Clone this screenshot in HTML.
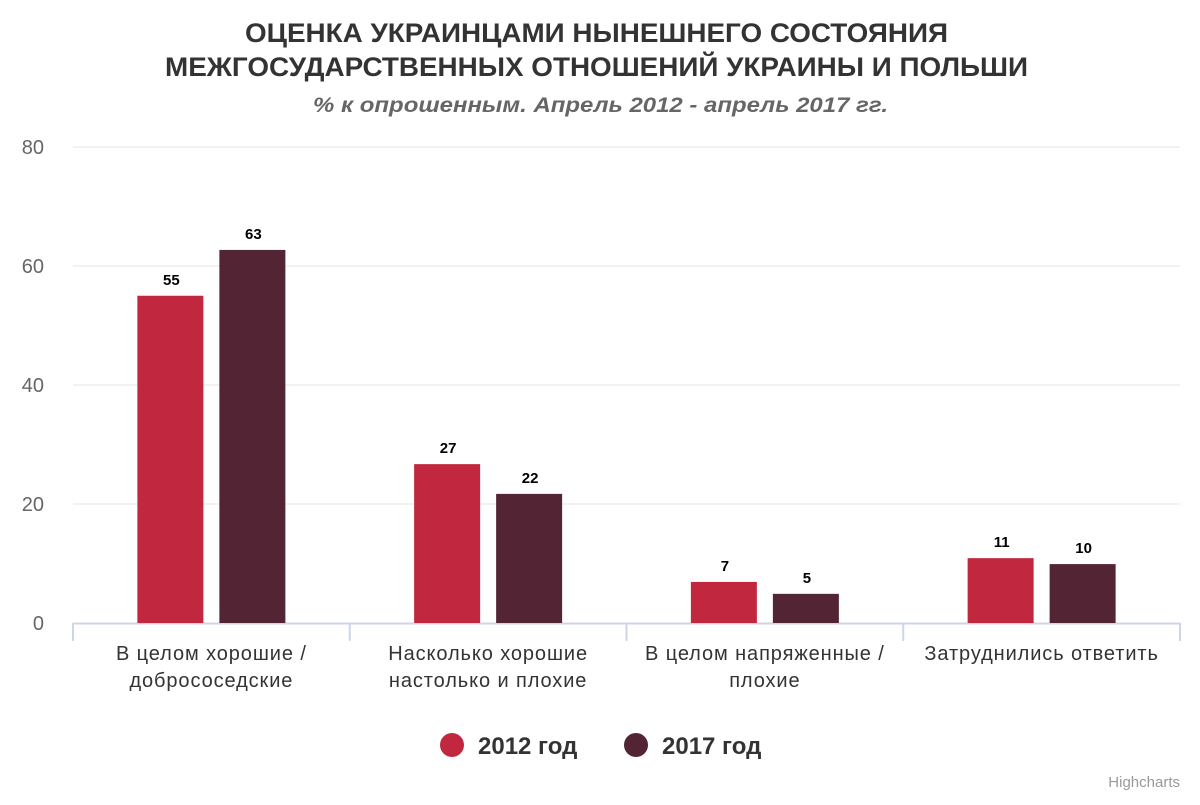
<!DOCTYPE html>
<html><head><meta charset="utf-8">
<style>
body{margin:0;background:#fff;font-family:"Liberation Sans","DejaVu Sans",sans-serif;}
</style></head>
<body>
<svg id="chart" width="1200" height="800" xmlns="http://www.w3.org/2000/svg" font-family="Liberation Sans, DejaVu Sans, sans-serif">
<rect width="1200" height="800" fill="#fff"/>
<text x="245" y="42" textLength="703" lengthAdjust="spacingAndGlyphs" font-size="27" font-weight="bold" fill="#333">ОЦЕНКА УКРАИНЦАМИ НЫНЕШНЕГО СОСТОЯНИЯ</text>
<text x="165" y="76" textLength="863" lengthAdjust="spacingAndGlyphs" font-size="27" font-weight="bold" fill="#333">МЕЖГОСУДАРСТВЕННЫХ ОТНОШЕНИЙ УКРАИНЫ И ПОЛЬШИ</text>
<text x="313" y="112" textLength="575" lengthAdjust="spacingAndGlyphs" font-size="21" font-weight="bold" font-style="italic" fill="#666">% к опрошенным. Апрель 2012 - апрель 2017 гг.</text>
<g id="grid"></g><g id="bars"></g><g id="labels"></g>
<g>
<g><circle cx="452" cy="745" r="12" fill="#C1283F"/><text x="478" y="754" font-size="24" font-weight="bold" fill="#333">2012 год</text></g>
<g><circle cx="636" cy="745" r="12" fill="#532434"/><text x="662" y="754" font-size="24" font-weight="bold" fill="#333">2017 год</text></g>
</g>
<text x="1180" y="787" text-anchor="end" font-size="15" fill="#999">Highcharts</text>
</svg>
<script>
const categories=[["В целом хорошие /","добрососедские"],["Насколько хорошие","настолько и плохие"],["В целом напряженные /","плохие"],["Затруднились ответить"]];
const values2012=[55,26.7,6.9,10.9];
const values2017=[62.7,21.7,4.9,9.9];
const labels2012=[55,27,7,11];
const labels2017=[63,22,5,10];
const yTicks=[0,20,40,60,80];
const NS="http://www.w3.org/2000/svg";
const x0=73,x1=1180,yTop=147,yBot=623,yMax=80;
const y=v=>yBot-(v/yMax)*(yBot-yTop);
const cw=(x1-x0)/categories.length;
const cx=i=>x0+cw*(i+0.5);
function mk(t,a,p){const e=document.createElementNS(NS,t);for(const k in a)e.setAttribute(k,a[k]);p.appendChild(e);return e;}
const grid=document.getElementById('grid'),bars=document.getElementById('bars'),lab=document.getElementById('labels');
yTicks.forEach(v=>{
 if(v>0){const l=mk('line',{x1:x0,x2:x1,y1:y(v),y2:y(v),stroke:'#e6e6e6','stroke-width':1},grid);
 
 }
 const t=mk('text',{x:44,y:y(v)+7,'text-anchor':'end','font-size':20,fill:'#666'},grid);t.textContent=v;
 
 
});
const ax=mk('line',{x1:x0,x2:x1,y1:yBot+0.5,y2:yBot+0.5,stroke:'#ccd6eb','stroke-width':2},grid);


for(let i=0;i<=categories.length;i++){const tk=mk('line',{x1:x0+cw*i,x2:x0+cw*i,y1:yBot,y2:yBot+18,stroke:'#ccd6eb','stroke-width':2},grid);
 
 }
const bw=66,gap=16;
categories.forEach((c,i)=>{
 const t=mk('text',{x:cx(i),'text-anchor':'middle','font-size':20,'letter-spacing':'0.9',fill:'#333'},lab);
 
 
 c.forEach((s,j)=>{const ts=mk('tspan',{x:cx(i),y:660+j*27},t);ts.textContent=s;});
 [[values2012,labels2012,'#C1283F',-1,'2012'],[values2017,labels2017,'#532434',1,'2017']].forEach(([vals,lbs,col,side,yr])=>{
  const bx=side<0?cx(i)-gap/2-bw:cx(i)+gap/2;
  const r=mk('rect',{x:bx,y:y(vals[i]),width:bw,height:yBot-y(vals[i]),fill:col},bars);
  
  
  const lt=mk('text',{x:bx+bw/2+1,y:y(vals[i])-11,'text-anchor':'middle','font-size':15,'font-weight':'bold',fill:'#000'},lab);
  lt.textContent=lbs[i];
  
  
 });
});
</script>
</body></html>
